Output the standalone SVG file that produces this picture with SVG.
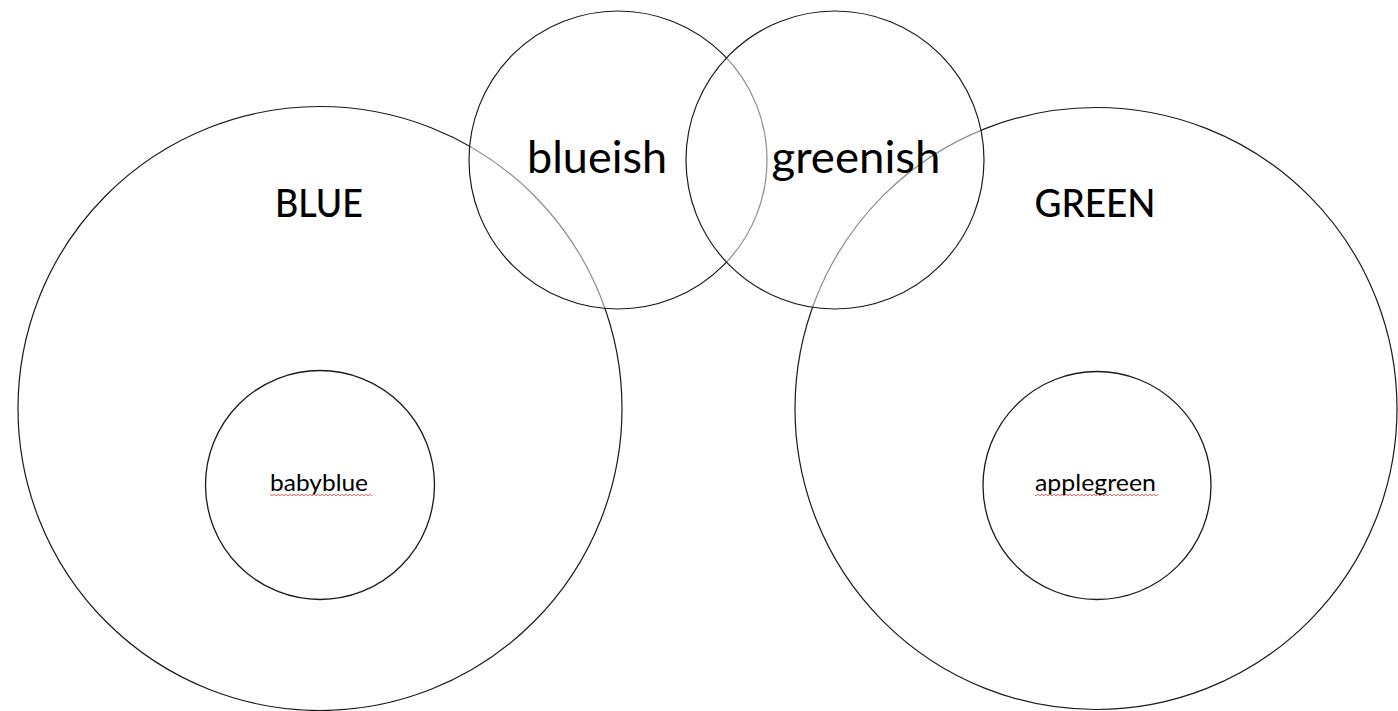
<svg xmlns="http://www.w3.org/2000/svg" width="1398" height="711" viewBox="0 0 1398 711">
  <defs>
    <style>
      .big { fill: none; stroke: #1a1a1a; stroke-width: 1.2; }
      .inner { fill: none; stroke: #1a1a1a; stroke-width: 1.3; }
      .small { fill: #ffffff; fill-opacity: 0.5; stroke: #1a1a1a; stroke-width: 1.2; }
      text { font-family: Lato, "Open Sans", "Liberation Sans", sans-serif; fill: #000; text-anchor: middle; }
      .title { font-size: 38px; font-weight: 500; }
      .mid { font-size: 44px; }
      .lbl { font-size: 24px; }
    </style>
    <pattern id="squig" patternUnits="userSpaceOnUse" x="0" y="493" width="4" height="4">
      <path d="M0 3 L2 1 L4 3" fill="none" stroke="#e8403a" stroke-width="0.8"/>
    </pattern>
  </defs>

  <g id="blue">
    <circle class="big" cx="320" cy="408.5" r="302"/>
    <text class="title" x="319" y="217" textLength="88" lengthAdjust="spacingAndGlyphs">BLUE</text>
  </g>

  <g id="green">
    <circle class="big" cx="1096" cy="408.5" r="301"/>
    <text class="title" x="1095" y="217" textLength="121" lengthAdjust="spacingAndGlyphs">GREEN</text>
  </g>

  <g id="babyblue">
    <circle class="inner" cx="320" cy="485" r="114.5"/>
    <text class="lbl" x="319" y="491" textLength="98" lengthAdjust="spacingAndGlyphs">babyblue</text>
    <rect x="270" y="493" width="102" height="4" fill="url(#squig)"/>
  </g>

  <g id="applegreen">
    <circle class="inner" cx="1097" cy="485.5" r="114"/>
    <text class="lbl" x="1095.5" y="491" textLength="121" lengthAdjust="spacingAndGlyphs">applegreen</text>
    <rect x="1035" y="493" width="123" height="4" fill="url(#squig)"/>
  </g>

  <g id="blueish">
    <circle class="small" cx="618" cy="160" r="149"/>
    <text class="mid" x="597" y="173" textLength="140" lengthAdjust="spacingAndGlyphs">blueish</text>
  </g>

  <g id="greenish">
    <circle class="small" cx="835" cy="160" r="149"/>
    <text class="mid" x="856" y="173" textLength="169" lengthAdjust="spacingAndGlyphs">greenish</text>
  </g>

  <g id="connectors"></g>
</svg>
